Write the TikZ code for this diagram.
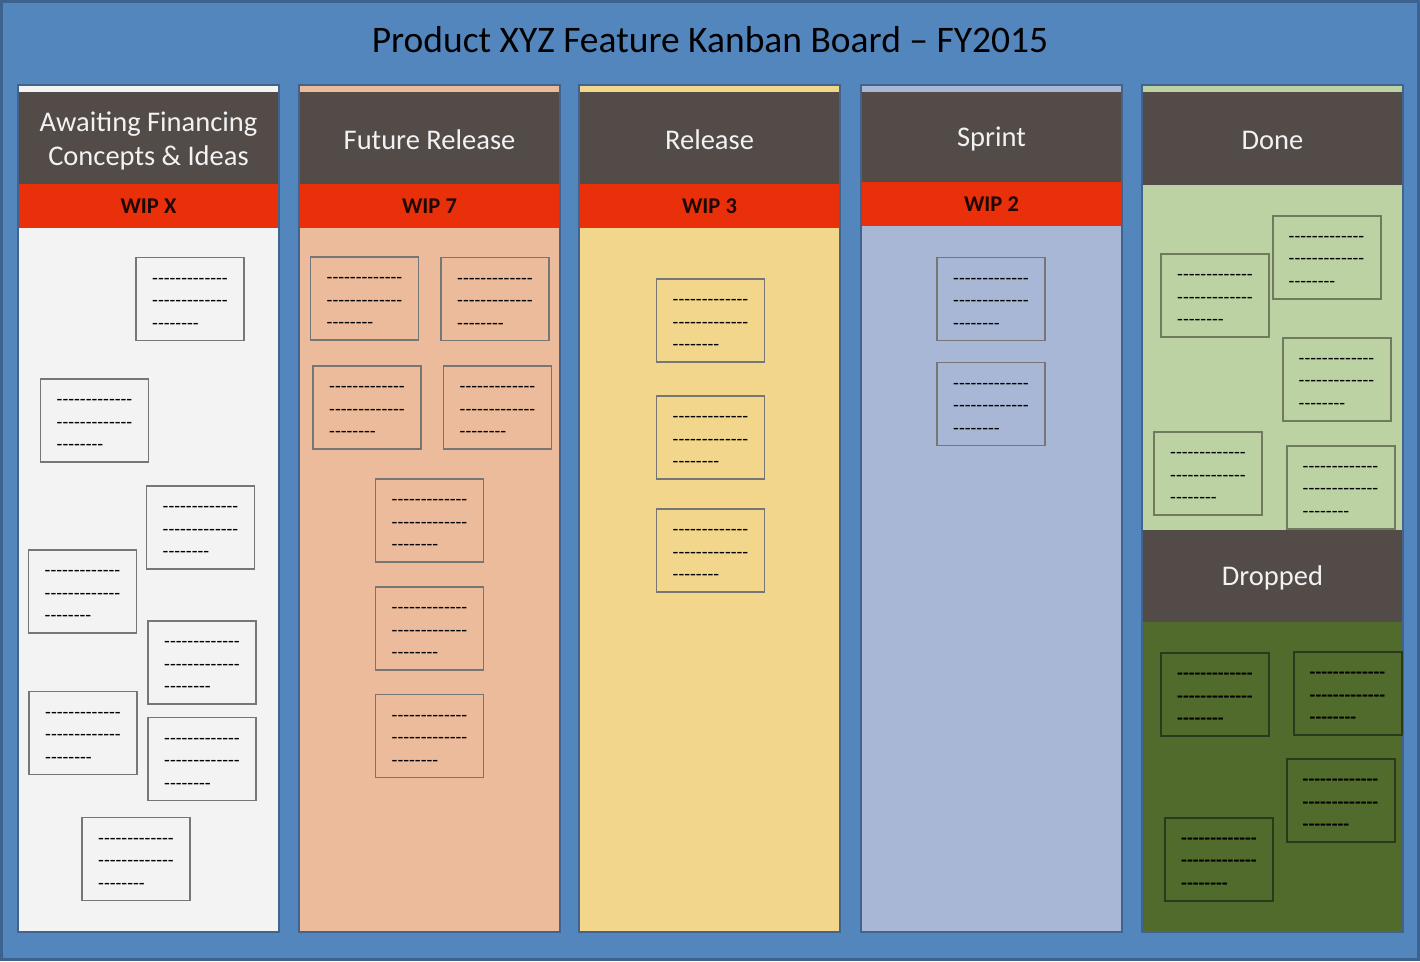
\documentclass[tikz,border=0pt]{standalone}
\usepackage{fontspec}
\setmainfont{Carlito}
\newfontfamily\cardfont[Ligatures=TeXOff]{Carlito}
\definecolor{bgblue}{HTML}{5486BE}
\definecolor{frame}{HTML}{3C6290}
\definecolor{colline}{HTML}{41638D}
\definecolor{hdr}{HTML}{524B48}
\definecolor{hdrtext}{HTML}{F2F2F2}
\definecolor{wipred}{HTML}{E9300B}
\definecolor{wiptext}{HTML}{1E0805}
\definecolor{cA}{HTML}{F3F3F3}
\definecolor{cB}{HTML}{EBBB9B}
\definecolor{cC}{HTML}{F2D68C}
\definecolor{cD}{HTML}{A9B7D6}
\definecolor{cE}{HTML}{BCD2A3}
\definecolor{cF}{HTML}{506B2B}
\definecolor{cardgrey}{HTML}{767676}
\definecolor{carddone}{HTML}{6F7A5E}
\definecolor{carddrop}{HTML}{2B3A1C}
\tikzset{
  column/.style={anchor=north west, minimum width=261pt, minimum height=847pt, inner sep=0pt, outer sep=0pt},
  header/.style={anchor=north west, minimum width=261pt, minimum height=92pt, inner sep=0pt, outer sep=0pt, fill=hdr},
  htext/.style={text=hdrtext, align=center, inner sep=0pt, font=\fontsize{28.5}{34}\selectfont},
  wip/.style={anchor=north west, minimum width=261pt, minimum height=44pt, inner sep=0pt, outer sep=0pt, fill=wipred, text=wiptext, font=\fontsize{22.5}{26}\selectfont\bfseries},
  card/.style={draw=cardgrey, line width=1.6pt, minimum width=108pt, minimum height=83pt, inner sep=0pt, align=left, font=\cardfont\fontsize{19}{22.5}\selectfont},
  donecard/.style={card, draw=carddone, line width=2pt},
  dropcard/.style={card, draw=carddrop, line width=2pt, font=\cardfont\bfseries\fontsize{19}{22.5}\selectfont},
  outline/.style={draw=colline, line width=1.5pt}
}
\newcommand{\cardtext}{\rule{0pt}{15.5pt}-------------\\-------------\\--------}
\begin{document}
\begin{tikzpicture}[x=1pt,y=-1pt]
\useasboundingbox (0,0) rectangle (1420,961);
\fill[bgblue] (0,0) rectangle (1420,961);
\draw[frame, line width=3pt] (1.5,1.5) rectangle (1418.5,959.5);
\node[font=\fontsize{37.5}{44}\selectfont, text=black] (title) at (710,40) {Product XYZ Feature Kanban Board – FY2015};

% columns
\node[column, fill=cA] (colA) at (18,85) {};
\node[column, fill=cB] (colB) at (299,85) {};
\node[column, fill=cC] (colC) at (579,85) {};
\node[column, fill=cD] (colD) at (861,85) {};
\node[column, fill=cE] (colE) at (1142,85) {};

% headers
\node[header] (hA) at (18,92) {};
\node[header] (hB) at (299,92) {};
\node[header] (hC) at (579,92) {};
\node[header, minimum height=90pt] (hD) at (861,92) {};
\node[header, minimum height=93pt] (hE) at (1142,92) {};

\node[htext] (tA) at ([yshift=-3pt]hA.center) {Awaiting Financing\\Concepts \& Ideas};
\node[htext] (tB) at ([yshift=-2pt]hB.center) {Future Release};
\node[htext] (tC) at ([yshift=-2pt]hC.center) {Release};
\node[htext] (tD) at ([yshift=-2pt]hD.center) {Sprint};
\node[htext] (tE) at ([yshift=-2pt]hE.center) {Done};

\node[wip] (wA) at (18,184) {WIP X};
\node[wip] (wB) at (299,184) {WIP 7};
\node[wip] (wC) at (579,184) {WIP 3};
\node[wip] (wD) at (861,182) {WIP 2};

% dropped area
\node[anchor=north west, minimum width=261pt, minimum height=310pt, inner sep=0pt, outer sep=0pt, fill=cF] (dropbody) at (1142,622) {};
\node[header] (hF) at (1142,530) {};
\node[htext] (tF) at ([yshift=-2pt]hF.center) {Dropped};

% column outlines
\foreach \c in {colA,colB,colC,colD,colE}
  \draw[outline] (\c.north west) rectangle (\c.south east);

% cards column A
\foreach \p [count=\i] in {(190,299),(94.5,420.5),(200.5,527.5),(82.5,591.5),(202,662.5),(83,733),(202,759),(136,859)}
  \node[card, fill=cA] (a\i) at \p {\cardtext};
% cards column B
\foreach \p [count=\i] in {(364.5,298.5),(495,299),(367,407.5),(497.5,407.5),(429.5,520.5),(429.5,628.5),(429.5,736)}
  \node[card, fill=cB] (b\i) at \p {\cardtext};
% cards column C
\foreach \p [count=\i] in {(710.5,320.5),(710.5,437.5),(710.5,550.5)}
  \node[card, fill=cC] (c\i) at \p {\cardtext};
% cards column D
\foreach \p [count=\i] in {(991,299),(991,404)}
  \node[card, fill=cD] (d\i) at \p {\cardtext};
% cards done
\foreach \p [count=\i] in {(1215,295.5),(1326.5,257),(1336.5,379),(1208,473.5),(1340.5,487)}
  \node[donecard, fill=cE] (e\i) at \p {\cardtext};
% cards dropped
\foreach \p [count=\i] in {(1215,694.5),(1347.5,693.5),(1340.5,800.5),(1219,859)}
  \node[dropcard, fill=cF] (f\i) at \p {\cardtext};
\end{tikzpicture}
\end{document}
